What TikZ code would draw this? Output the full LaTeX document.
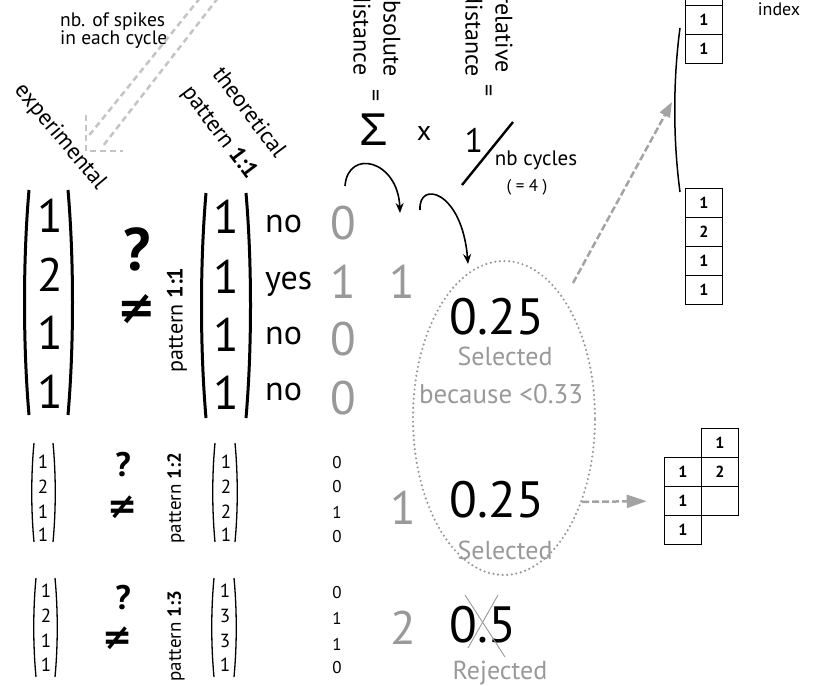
\documentclass[tikz,border=0pt]{standalone}
\usepackage{fontspec}
\setmainfont{PT Sans}
\newfontfamily\symfont{DejaVu Sans}
\newfontfamily\sigfont{Liberation Sans}
\usepackage{tikz}
\usetikzlibrary{arrows.meta,positioning,shapes.geometric}
\definecolor{numgray}{HTML}{999999}
\definecolor{dashgray}{HTML}{A3A3A3}
\definecolor{lightdash}{HTML}{C4C4C4}
\newcommand{\pxsize}[1]{\fontsize{#1}{#1}\selectfont}
\tikzset{
  lbl/.style={inner sep=0pt,font=\pxsize{17}},
  bignum/.style={inner sep=0pt,font=\pxsize{47}},
  resnum/.style={inner sep=0pt,font=\pxsize{51}},
  graynum/.style={bignum,text=numgray},
  answer/.style={inner sep=0pt,font=\pxsize{34},anchor=base west},
  smallnum/.style={inner sep=0pt,font=\pxsize{19}},
  colnum/.style={inner sep=0pt,font=\pxsize{17}},
  qmark/.style={inner sep=0pt,font=\bfseries\pxsize{60}},
  sqmark/.style={inner sep=0pt,font=\bfseries\pxsize{34}},
  neq/.style={inner sep=0pt,font=\symfont\bfseries\pxsize{46}},
  sneq/.style={inner sep=0pt,font=\symfont\bfseries\pxsize{36}},
  patlbl/.style={inner sep=0pt,rotate=90,font=\pxsize{22}},
  spatlbl/.style={inner sep=0pt,rotate=90,font=\pxsize{19}},
  slant/.style={inner sep=0pt,font=\pxsize{23}},
  vtxt/.style={inner sep=0pt,rotate=-90,align=center,font=\pxsize{24}},
  graytxt/.style={inner sep=0pt,text=numgray,font=\pxsize{26}},
  cell/.style={draw,line width=1.5pt,minimum width=37pt,minimum height=29pt,
               inner sep=0pt,font=\bfseries\pxsize{16}},
  bigpar/.style={line width=3pt},
  smallpar/.style={line width=1.3pt},
  arr/.style={-{Stealth[length=10pt,width=8pt]},line width=1.6pt},
  garr/.style={-{Triangle[length=20pt,width=13pt]},dashgray,line width=2.5pt,
               dash pattern=on 7pt off 3pt},
  sel/.style={ellipse,draw=numgray,line width=2.4pt,dash pattern=on 0pt off 4.6pt,
              line cap=round,minimum width=182pt,minimum height=314pt},
}

\begin{document}
\begin{tikzpicture}[x=1pt,y=-1pt]
\useasboundingbox (0,0) rectangle (824,685);
% titles
\node[lbl,font=\fontsize{19.5}{18}\selectfont,align=left,anchor=west] (spikes) at (60,31)
  {nb. of spikes\\in each cycle};
\node[slant,rotate=-50] (exptitle) at (60,137) {experimental};
\node[slant,rotate=-53] (theotitle) at (250,112) {theoretical};
\node[slant,rotate=-53] (theopat) at (219,133) {pattern \textbf{1:1}};
% hollow dashed arrow
\coordinate (dl1) at (200,-2); \coordinate (dl2) at (87,138);
\coordinate (dr1) at (218,-2); \coordinate (dr2) at (103,146);
\coordinate (tipa) at (86,115); \coordinate (tip) at (86,151); \coordinate (tipb) at (123,151);
\draw[lightdash,line width=2.5pt,dash pattern=on 6pt off 4pt] (dl1) -- (dl2) (dr1) -- (dr2);
\draw[lightdash,line width=2.5pt,dash pattern=on 6pt off 4pt] (tipa) -- (tip) -- (tipb);
% distances
\node[vtxt,anchor=east] (absdist) at (377,77) {absolute\\[6pt]distance};
\node[vtxt] (abseq) at (373,96) {=};
\node[vtxt,anchor=east] (reldist) at (489,77) {relative\\[6pt]distance};
\node[vtxt] (releq) at (486,91) {=};
\node[inner sep=0pt,font=\sigfont\pxsize{46}] (sigma) at (374,130) {Σ};
\node[inner sep=0pt,font=\pxsize{28}] (times) at (424,133) {x};
\node[inner sep=0pt,font=\pxsize{34}] (one) at (474,140) {1};
\coordinate (sl1) at (462,185); \coordinate (sl2) at (513,122);
\draw[line width=2.4pt] (sl1) -- (sl2);
\node[inner sep=0pt,font=\pxsize{21}] (nbcyc) at (536,160) {nb cycles};
\node[inner sep=0pt,font=\pxsize{17}] (cyc4) at (527,187) {( = 4 )};
% pattern 1:1, big
\draw[bigpar] (29,190) .. controls (23,260) and (23,345) .. (29,415);
\draw[bigpar] (68,190) .. controls (74,260) and (74,345) .. (68,415);
\node[bignum] (e11) at (50,216) {1};
\node[bignum] (e12) at (50,275) {2};
\node[bignum] (e13) at (50,333) {1};
\node[bignum] (e14) at (50,392) {1};
\node[qmark] (q1) at (137,249) {?};
\node[neq] (ne1) at (137,309) {≠};
\node[patlbl] (pat1) at (177,320) {pattern \textbf{1:1}};
\draw[bigpar] (206,193) .. controls (200,263) and (200,348) .. (206,418);
\draw[bigpar] (246,193) .. controls (252,263) and (252,348) .. (246,418);
\node[bignum] (t11) at (226,217) {1};
\node[bignum] (t12) at (226,277) {1};
\node[bignum] (t13) at (226,335) {1};
\node[bignum] (t14) at (226,393) {1};
\node[answer] (a1) at (265,232) {no};
\node[answer] (a2) at (265,289) {yes};
\node[answer] (a3) at (265,344) {no};
\node[answer] (a4) at (265,400) {no};
\node[graynum] (d11) at (343,223) {0};
\node[graynum] (d12) at (343,282) {1};
\node[graynum] (d13) at (343,339) {0};
\node[graynum] (d14) at (343,398) {0};
\node[graynum] (s1) at (402,282) {1};
% pattern 1:2
\draw[smallpar] (34,443) .. controls (31,475) and (31,510) .. (34,542);
\draw[smallpar] (53,443) .. controls (56,475) and (56,510) .. (53,542);
\node[smallnum] (e21) at (43,462) {1};
\node[smallnum] (e22) at (43,487) {2};
\node[smallnum] (e23) at (43,512) {1};
\node[smallnum] (e24) at (43,535) {1};
\node[sqmark] (q2) at (123,465) {?};
\node[sneq] (ne2) at (123,507) {≠};
\node[spatlbl] (pat2) at (176,498) {pattern \textbf{1:2}};
\draw[smallpar] (215,443) .. controls (212,475) and (212,510) .. (215,542);
\draw[smallpar] (235,443) .. controls (238,475) and (238,510) .. (235,542);
\node[smallnum] (t21) at (226,462) {1};
\node[smallnum] (t22) at (226,487) {2};
\node[smallnum] (t23) at (226,512) {2};
\node[smallnum] (t24) at (226,535) {1};
\node[colnum] (d21) at (337,463) {0};
\node[colnum] (d22) at (337,487) {0};
\node[colnum] (d23) at (337,512) {1};
\node[colnum] (d24) at (337,537) {0};
\node[graynum] (s2) at (403,508) {1};
% pattern 1:3
\draw[smallpar] (36,578) .. controls (33,610) and (33,645) .. (36,677);
\draw[smallpar] (55,578) .. controls (58,610) and (58,645) .. (55,677);
\node[smallnum] (e31) at (46,591) {1};
\node[smallnum] (e32) at (46,616) {2};
\node[smallnum] (e33) at (46,641) {1};
\node[smallnum] (e34) at (46,665) {1};
\node[sqmark] (q3) at (123,598) {?};
\node[sneq] (ne3) at (118,638) {≠};
\node[spatlbl] (pat3) at (176,636) {pattern \textbf{1:3}};
\draw[smallpar] (214,578) .. controls (211,610) and (211,645) .. (214,677);
\draw[smallpar] (234,578) .. controls (237,610) and (237,645) .. (234,677);
\node[smallnum] (t31) at (225,591) {1};
\node[smallnum] (t32) at (225,616) {3};
\node[smallnum] (t33) at (225,641) {3};
\node[smallnum] (t34) at (225,665) {1};
\node[colnum] (d31) at (337,593) {0};
\node[colnum] (d32) at (337,618) {1};
\node[colnum] (d33) at (337,644) {1};
\node[colnum] (d34) at (337,668) {0};
\node[graynum] (s3) at (403,628) {2};
% sum and division arrows
\coordinate (c1s) at (345,186); \coordinate (c1e) at (400,213);
\coordinate (c2s) at (420,210); \coordinate (c2e) at (468,264);
\draw[arr] (c1s) .. controls (348,148) and (398,160) .. (c1e);
\draw[arr] (c2s) .. controls (418,180) and (462,190) .. (c2e);
% relative distances
\node[sel] (sel) at (504,418) {};
\node[resnum] (r1) at (497,317) {0.25};
\node[graytxt] (sel1) at (505,356) {Selected};
\node[graytxt,font=\pxsize{27}] (why) at (501,394) {because <0.33};
\node[resnum] (r2) at (497,500) {0.25};
\node[graytxt] (sel2) at (505,550) {Selected};
\node[resnum] (r3) at (483,625) {0.5};
\draw[numgray,line width=0.9pt] (r3.center) ++(-18,-30) coordinate (x1) -- ++(40,62) coordinate (x2);
\draw[numgray,line width=0.9pt] (r3.center) ++(15,-30) coordinate (x3) -- ++(-30,53) coordinate (x4);
\node[graytxt] (rej) at (500,673) {Rejected};
% index columns
\node[lbl,font=\pxsize{18}] (index) at (779,9) {index};
\node[cell] (ia) at (704,-9) {1};
\node[cell] (ib) at (704,20) {1};
\node[cell] (ic) at (704,49) {1};
\node[cell] (la) at (704,203) {1};
\node[cell] (lb) at (704,232) {2};
\node[cell] (lc) at (704,261) {1};
\node[cell] (ld) at (704,290) {1};
\coordinate (br1) at (680,28); \coordinate (br2) at (680,192);
\draw[line width=1.5pt] (br1) .. controls (673,80) and (673,140) .. (br2);
\node[cell] (gb1) at (720,443) {1};
\node[cell] (gb2) at (720,472) {2};
\node[cell] (gb3) at (720,501) {};
\node[cell] (ga2) at (683,472) {1};
\node[cell] (ga3) at (683,501) {1};
\node[cell] (ga4) at (683,530) {1};
% selected -> index
\coordinate (upfrom) at (573,283); \coordinate (upto) at (672,102);
\draw[garr,-{Triangle[length=15pt,width=11pt]}] (upfrom) -- (upto);
\draw[garr,shorten >=17pt] (sel.-47) -- (ga3.west);
\end{tikzpicture}
\end{document}
